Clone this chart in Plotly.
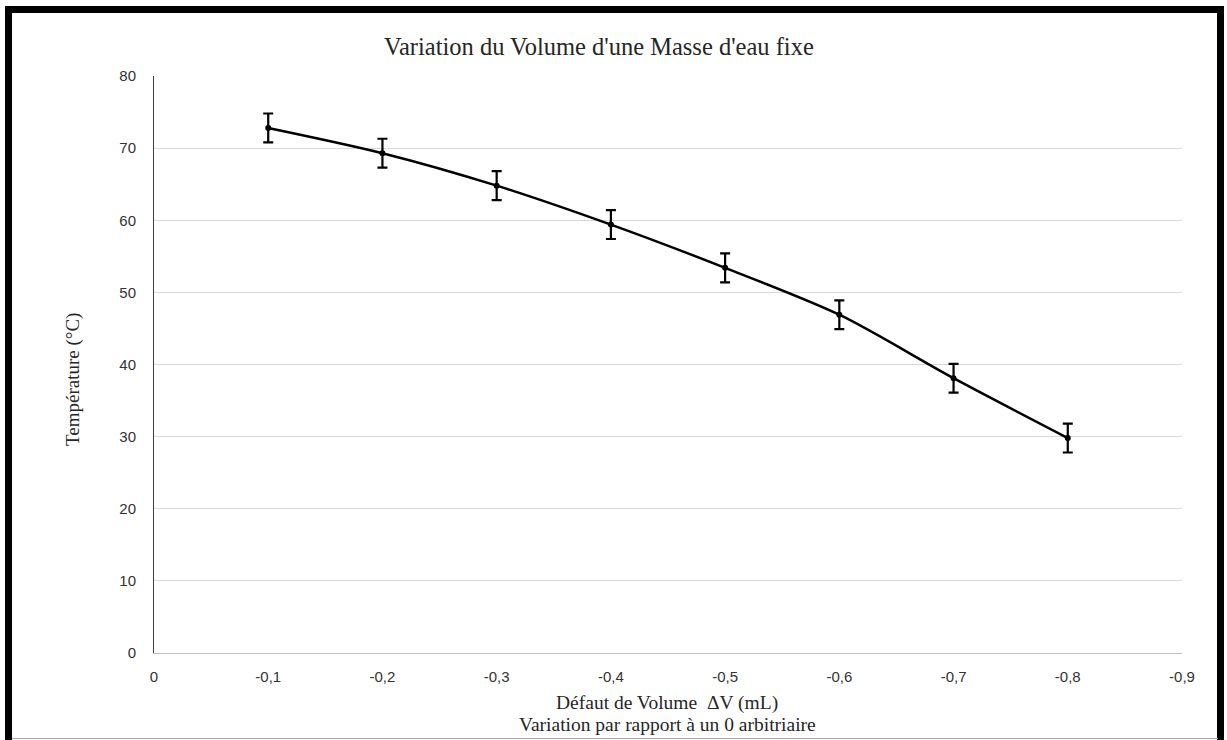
import plotly.graph_objects as go

# Data
delta_v = [-0.1, -0.2, -0.3, -0.4, -0.5, -0.6, -0.7, -0.8]
temperature = [72.8, 69.3, 64.8, 59.4, 53.4, 46.9, 38.1, 29.8]
temp_err = [2, 2, 2, 2, 2, 2, 2, 2]

x_tickvals = [0, -0.1, -0.2, -0.3, -0.4, -0.5, -0.6, -0.7, -0.8, -0.9]
x_ticktext = ["0", "-0,1", "-0,2", "-0,3", "-0,4", "-0,5", "-0,6", "-0,7", "-0,8", "-0,9"]
y_tickvals = [0, 10, 20, 30, 40, 50, 60, 70, 80]

title_text = "Variation du Volume d'une Masse d'eau fixe"
x_title_1 = "Défaut de Volume  ΔV (mL)"
x_title_2 = "Variation par rapport à un 0 arbitriaire"
y_title = "Température (°C)"

W, H = 1227, 740
ML, MR, MT, MB = 154, 45, 76, 87
PW = W - ML - MR
PH = H - MT - MB

def px_x(p):
    return (p - ML) / PW

def px_y(p):
    return (H - MB - p) / PH

fig = go.Figure()
fig.add_trace(go.Scatter(
    x=delta_v, y=temperature,
    mode="lines+markers",
    line=dict(color="black", width=2.5, shape="spline", smoothing=0.8),
    marker=dict(color="black", size=6),
    error_y=dict(type="data", array=temp_err, visible=True,
                 color="black", thickness=2.2, width=5),
    showlegend=False,
    hoverinfo="x+y",
))

serif = "Liberation Serif, Times New Roman, serif"
sans = "Liberation Sans, Arial, sans-serif"

fig.update_layout(
    width=W, height=H,
    margin=dict(l=ML, r=MR, t=MT, b=MB),
    paper_bgcolor="white",
    plot_bgcolor="white",
    xaxis=dict(
        range=[0, -0.9],
        tickvals=x_tickvals, ticktext=x_ticktext,
        showgrid=False, zeroline=False,
        showline=True, linecolor="#bfbfbf", linewidth=1,
        ticks="outside", ticklen=10, tickcolor="rgba(0,0,0,0)",
        tickfont=dict(family=sans, size=15, color="#333333"),
    ),
    yaxis=dict(
        range=[0, 80],
        tickvals=y_tickvals,
        showgrid=True, gridcolor="#d9d9d9", gridwidth=1,
        zeroline=False,
        showline=True, linecolor="#404040", linewidth=1,
        ticks="outside", ticklen=14, tickcolor="rgba(0,0,0,0)",
        tickfont=dict(family=sans, size=15, color="#333333"),
    ),
    annotations=[
        dict(text=title_text, xref="paper", yref="paper",
             x=px_x(599), y=px_y(47), showarrow=False,
             xanchor="center", yanchor="middle",
             font=dict(family=serif, size=24.5, color="#262626")),
        dict(text=x_title_1, xref="paper", yref="paper",
             x=px_x(667), y=px_y(703), showarrow=False,
             xanchor="center", yanchor="middle",
             font=dict(family=serif, size=19.5, color="#262626")),
        dict(text=x_title_2, xref="paper", yref="paper",
             x=px_x(667), y=px_y(724), showarrow=False,
             xanchor="center", yanchor="middle",
             font=dict(family=serif, size=19.5, color="#262626")),
        dict(text=y_title, xref="paper", yref="paper",
             x=px_x(73), y=px_y(380), showarrow=False,
             xanchor="center", yanchor="middle", textangle=-90,
             font=dict(family=serif, size=19, color="#262626")),
    ],
    shapes=[
        dict(type="rect", xref="paper", yref="paper",
             x0=px_x(8.5), x1=px_x(1220.5), y0=px_y(760), y1=px_y(9.5),
             line=dict(color="black", width=7), fillcolor="rgba(0,0,0,0)",
             layer="above"),
        dict(type="line", xref="paper", yref="paper",
             x0=px_x(12), x1=px_x(1218), y0=px_y(738.5), y1=px_y(738.5),
             line=dict(color="#a6a6a6", width=1)),
    ],
)

fig.write_html("out.html",
               config={"displayModeBar": False},
               post_script="document.body.style.margin='0';document.body.style.overflow='hidden';")
